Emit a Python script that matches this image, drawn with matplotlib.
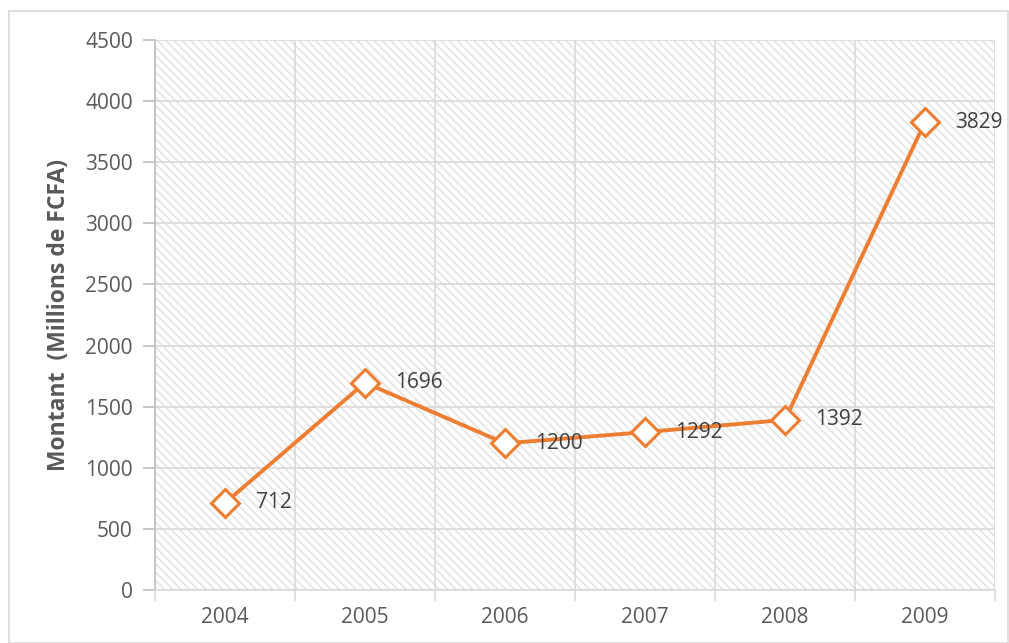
import matplotlib.pyplot as plt
from matplotlib.patches import Rectangle

years = ['2004', '2005', '2006', '2007', '2008', '2009']
montants = [712, 1696, 1200, 1292, 1392, 3829]
yticks = [0, 500, 1000, 1500, 2000, 2500, 3000, 3500, 4000, 4500]

plt.rcParams['font.family'] = ['Open Sans', 'DejaVu Sans']
plt.rcParams['hatch.linewidth'] = 1.0

fig = plt.figure(figsize=(10.09, 6.43), dpi=100)
fig.patches.append(Rectangle((0.009, 0.0), 0.99, 0.983, transform=fig.transFigure,
                             fill=False, edgecolor='#d9d9d9', linewidth=1.2))
ax = fig.add_axes([0.1536, 0.0824, 0.8325, 0.8554])

# fond hachure
ax.patch.set_facecolor('white')
ax.add_patch(Rectangle((0, 0), 1, 1, transform=ax.transAxes, facecolor='white',
                       edgecolor='#e0e0e0', hatch='\\\\\\\\', linewidth=0, zorder=0))

x = list(range(len(years)))
ax.plot(x, montants, color='#ed7d31', linewidth=2.8, marker='D', markersize=14,
        markerfacecolor='white', markeredgecolor='#ed7d31', markeredgewidth=2.2, zorder=5)
for xi, v in zip(x, montants):
    ax.annotate(str(v), (xi, v), xytext=(22, 0), textcoords='offset points',
                ha='left', va='center', fontsize=15, color='#404040', zorder=6)

ax.set_xlim(-0.5, len(years) - 0.5)
ax.set_ylim(0, 4500)
ax.set_yticks(yticks)
ax.set_xticks(x)
ax.set_xticklabels(years)
ax.set_xticks([i - 0.5 for i in range(len(years) + 1)], minor=True)
ax.tick_params(axis='x', which='major', length=0, pad=12, labelsize=15, labelcolor='#595959')
ax.tick_params(axis='x', which='minor', length=8, color='#d9d9d9', width=1.2)
ax.tick_params(axis='y', length=9, color='#bfbfbf', width=1.2, pad=7, labelsize=15,
               labelcolor='#595959')

ax.grid(axis='y', color='#d9d9d9', linewidth=1.2, zorder=1)
ax.grid(axis='x', which='minor', color='#d9d9d9', linewidth=1.2, zorder=1)
for s in ['top', 'right']:
    ax.spines[s].set_visible(False)
ax.spines['left'].set_color('#bfbfbf')
ax.spines['bottom'].set_color('#d9d9d9')
ax.spines['left'].set_linewidth(1.2)
ax.spines['bottom'].set_linewidth(1.2)
ax.set_axisbelow(True)

ax.set_ylabel('Montant  (Millions de FCFA)', fontsize=16.5, fontweight='bold',
              color='#595959', labelpad=10)

fig.savefig('out.png', dpi=100)
